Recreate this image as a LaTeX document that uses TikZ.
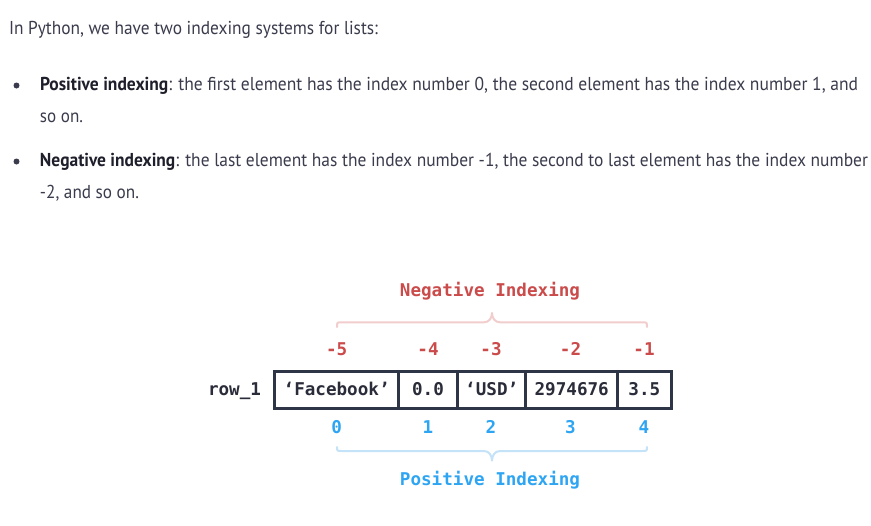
\documentclass[tikz,border=0pt]{standalone}
\usepackage{fontspec}
\usepackage{graphicx}
\setmainfont{PT Sans}
\newfontfamily\monof{DejaVu Sans Mono}
\definecolor{bodytxt}{HTML}{3A3B4C}
\definecolor{boldtxt}{HTML}{1E1F2B}
\definecolor{negred}{HTML}{CB4B4B}
\definecolor{negbr}{HTML}{F2CDCD}
\definecolor{posblue}{HTML}{2EA5F3}
\definecolor{posbr}{HTML}{C4E2F8}
\definecolor{boxline}{HTML}{2E3546}
\definecolor{celltxt}{HTML}{2A2C3A}
\begin{document}
\begin{tikzpicture}[x=0.75pt,y=-0.75pt,
  bodyline/.style={anchor=base west,inner sep=0,outer sep=0,text=bodytxt,font=\fontsize{14pt}{16pt}\selectfont},
  bulletdot/.style={circle,fill=bodytxt,draw=none,inner sep=0,minimum size=4.5pt},
  monotxt/.style={anchor=base,inner sep=0,font=\monof\bfseries\fontsize{13.2pt}{15pt}\selectfont},
  negtxt/.style={monotxt,text=negred},
  postxt/.style={monotxt,text=posblue},
  cell/.style={draw=boxline,line width=2.25pt,inner sep=0,minimum height=27.4pt,
    text height=9pt,text depth=1.875pt,text=celltxt,font=\monof\bfseries\fontsize{13.2pt}{15pt}\selectfont},
  negbrace/.style={draw=negbr,line width=1.5pt,line cap=round,line join=round},
  posbrace/.style={draw=posbr,line width=1.5pt,line cap=round,line join=round}]
\useasboundingbox (0,0) rectangle (871,525);
\fill[white] (0,0) rectangle (871,525);

% Intro text
\node[bodyline] (intro) at (9,34) {\resizebox{276.75pt}{\height}{In Python, we have two indexing systems for lists:}};
\node[bulletdot] (b1) at (16.5,85.5) {};
\node[bodyline] (l1) at (40,90) {\resizebox{613.5pt}{\height}{\textcolor{boldtxt}{\bfseries Positive indexing}: the first element has the index number 0, the second element has the index number 1, and}};
\node[bodyline] (l1b) at (40,122) {\resizebox{32.25pt}{\height}{so on.}};
\node[bulletdot] (b2) at (16.5,161.5) {};
\node[bodyline] (l2) at (40,166) {\resizebox{621pt}{\height}{\textcolor{boldtxt}{\bfseries Negative indexing}: the last element has the index number -1, the second to last element has the index number}};
\node[bodyline] (l2b) at (40,198) {\resizebox{74.25pt}{\height}{-2, and so on.}};

% Titles
\node[negtxt] (negtitle) at (490,296) {Negative Indexing};
\node[postxt] (postitle) at (490,485) {Positive Indexing};

% Braces
\draw[negbrace] (337,327) .. controls (337,322.3) .. (342,322.3) -- (484,322.3)
  .. controls (489,322.3) and (492,318) .. (492,313)
  .. controls (492,318) and (495,322.3) .. (500,322.3) -- (642,322.3)
  .. controls (647,322.3) .. (647,327);
\draw[posbrace] (337,447) .. controls (337,451) .. (342,451) -- (484,451)
  .. controls (489,451) and (492,455.5) .. (492,460.5)
  .. controls (492,455.5) and (495,451) .. (500,451) -- (642,451)
  .. controls (647,451) .. (647,447);

% Negative indices
\node[negtxt] (m5) at (336.7,355) {-5};
\node[negtxt] (m4) at (428,355) {-4};
\node[negtxt] (m3) at (491,355) {-3};
\node[negtxt] (m2) at (570.5,355) {-2};
\node[negtxt] (m1) at (644,355) {-1};

% Row label and cells
\node[monotxt,text=celltxt] (rowlab) at (234.5,395) {row\_1};
\node[cell,minimum width=92.5pt] (c1) at (336.65,390.25) {‘Facebook’};
\node[cell,minimum width=44.55pt] (c2) at (428,390.25) {0.0};
\node[cell,minimum width=51pt] (c3) at (491.7,390.25) {‘USD’};
\node[cell,minimum width=69pt] (c4) at (571.7,390.25) {2974676};
\node[cell,minimum width=40pt] (c5) at (644.35,390.25) {3.5};

% Positive indices
\node[postxt] (p0) at (336.7,433) {0};
\node[postxt] (p1) at (428,433) {1};
\node[postxt] (p2) at (491,433) {2};
\node[postxt] (p3) at (570.5,433) {3};
\node[postxt] (p4) at (644,433) {4};
\end{tikzpicture}
\end{document}
